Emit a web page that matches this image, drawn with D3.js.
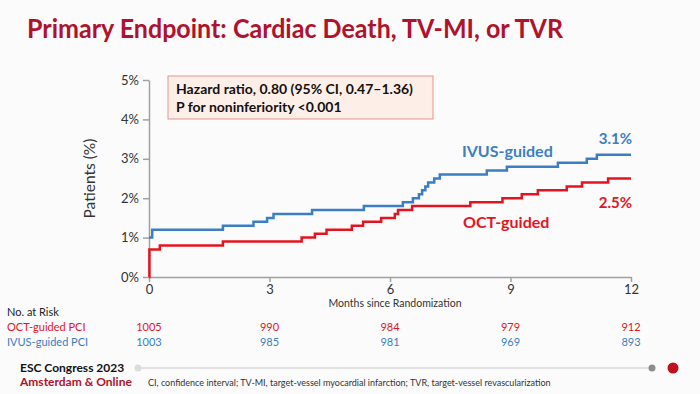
<!DOCTYPE html>
<html>
<head>
<meta charset="utf-8">
<script src="https://cdn.jsdelivr.net/npm/d3@7"></script>
<style>
  html, body { margin: 0; padding: 0; background: #fbfbfb; }
  svg { display: block; font-family: Lato, "Open Sans", sans-serif; }
</style>
</head>
<body>
<div id="chart"></div>
<script>
// step data (months, % of patients)
var ivusMonths = [0, 0.08, 1.84, 2.6, 2.94, 3.1, 4.06, 5.35, 6.32, 6.57, 6.72, 6.8, 6.88, 6.95, 7.1, 7.24, 8.41, 8.91, 10.18, 10.9, 11.15, 12];
var ivusPct    = [1.0, 1.2, 1.3, 1.4, 1.5, 1.6, 1.7, 1.8, 1.9, 2.0, 2.1, 2.2, 2.3, 2.4, 2.5, 2.6, 2.7, 2.8, 2.9, 3.0, 3.1, 3.1];
var octMonths  = [0, 0.01, 0.27, 1.84, 3.8, 4.13, 4.42, 5.05, 5.33, 5.78, 6.12, 6.2, 6.55, 8.0, 8.8, 9.28, 9.68, 10.4, 10.78, 11.43, 12];
var octPct     = [0, 0.7, 0.8, 0.9, 1.0, 1.1, 1.2, 1.3, 1.4, 1.5, 1.6, 1.7, 1.8, 1.9, 2.0, 2.1, 2.2, 2.3, 2.4, 2.5, 2.5];

var monthTicks = [0, 3, 6, 9, 12];
var pctTicks = [0, 1, 2, 3, 4, 5];
var atRiskOCT = [1005, 990, 984, 979, 912];
var atRiskIVUS = [1003, 985, 981, 969, 893];

var W = 700, H = 394;
var red = "#e3141f", blue = "#3b7ec2", darkRed = "#b0122b";

var svg = d3.select("#chart").append("svg")
  .attr("width", W).attr("height", H);

svg.append("text")
  .attr("x", 27).attr("y", 38)
  .attr("font-size", 26).attr("font-weight", 700)
  .attr("fill", darkRed)
  .attr("textLength", 536).attr("lengthAdjust", "spacingAndGlyphs")
  .text("Primary Endpoint: Cardiac Death, TV-MI, or TVR");

var x = d3.scaleLinear().domain([0, 12]).range([149, 631]);
var y = d3.scaleLinear().domain([0, 5]).range([277, 80]);

// axes
var yAxis = svg.append("g")
  .attr("transform", "translate(" + x(0) + ",0)")
  .call(d3.axisLeft(y).tickValues(pctTicks).tickSize(6).tickSizeOuter(0)
    .tickFormat(function(d) { return d + "%"; }));
var xAxis = svg.append("g")
  .attr("transform", "translate(0," + y(0) + ")")
  .call(d3.axisBottom(x).tickValues(monthTicks).tickSize(5).tickSizeOuter(0));
[yAxis, xAxis].forEach(function(g) {
  g.select(".domain").attr("stroke", "#a0a0a0").attr("stroke-width", 1.5);
  g.selectAll(".tick line").attr("stroke", "#a0a0a0").attr("stroke-width", 1.5);
  g.selectAll("text").attr("fill", "#333").attr("font-size", 13)
    .attr("font-family", "Lato, sans-serif");
});
yAxis.selectAll("text").attr("x", -10);
xAxis.selectAll("text").attr("y", 8);

svg.append("text")
  .attr("transform", "translate(95," + y(2.5) + ") rotate(-90)")
  .attr("text-anchor", "middle").attr("font-size", 15.5).attr("fill", "#333")
  .text("Patients (%)");

svg.append("text")
  .attr("x", 395).attr("y", 307)
  .attr("text-anchor", "middle").attr("font-size", 10.5).attr("fill", "#333")
  .text("Months since Randomization");

// curves
var line = d3.line()
  .x(function(d) { return x(d[0]); })
  .y(function(d) { return y(d[1]); })
  .curve(d3.curveStepAfter);

svg.append("path")
  .datum(d3.zip(ivusMonths, ivusPct))
  .attr("d", line).attr("fill", "none")
  .attr("stroke", blue).attr("stroke-width", 2.5);
svg.append("path")
  .datum(d3.zip(octMonths, octPct))
  .attr("d", line).attr("fill", "none")
  .attr("stroke", red).attr("stroke-width", 2.5);

// curve labels
svg.append("text").attr("x", 462).attr("y", 157)
  .attr("font-size", 16).attr("font-weight", 700).attr("fill", blue)
  .text("IVUS-guided");
svg.append("text").attr("x", 632).attr("y", 144).attr("text-anchor", "end")
  .attr("font-size", 15).attr("font-weight", 700).attr("fill", blue)
  .text(ivusPct[ivusPct.length - 1].toFixed(1) + "%");
svg.append("text").attr("x", 463).attr("y", 228)
  .attr("font-size", 16).attr("font-weight", 700).attr("fill", red)
  .text("OCT-guided");
svg.append("text").attr("x", 632).attr("y", 208).attr("text-anchor", "end")
  .attr("font-size", 15).attr("font-weight", 700).attr("fill", red)
  .text(octPct[octPct.length - 1].toFixed(1) + "%");

// hazard box
svg.append("rect")
  .attr("x", 168).attr("y", 76).attr("width", 265).attr("height", 43)
  .attr("fill", "#fdeee8").attr("stroke", "#e8938a").attr("stroke-width", 1);
svg.append("text").attr("x", 176).attr("y", 94)
  .attr("font-size", 14).attr("font-weight", 700).attr("fill", "#111")
  .text("Hazard ratio, 0.80 (95% CI, 0.47\u20131.36)");
svg.append("text").attr("x", 176).attr("y", 112)
  .attr("font-size", 14).attr("font-weight", 700).attr("fill", "#111")
  .text("P for noninferiority <0.001");

// number at risk
svg.append("text").attr("x", 7).attr("y", 316)
  .attr("font-size", 11).attr("fill", "#222").text("No. at Risk");
svg.append("text").attr("x", 7).attr("y", 331)
  .attr("font-size", 11).attr("fill", red).text("OCT-guided PCI");
svg.append("text").attr("x", 7).attr("y", 346)
  .attr("font-size", 11).attr("fill", blue).text("IVUS-guided PCI");
svg.selectAll(".riskOCT").data(atRiskOCT).enter().append("text")
  .attr("x", function(d, i) { return x(monthTicks[i]); }).attr("y", 331)
  .attr("text-anchor", "middle").attr("font-size", 11).attr("fill", red)
  .text(function(d) { return d; });
svg.selectAll(".riskIVUS").data(atRiskIVUS).enter().append("text")
  .attr("x", function(d, i) { return x(monthTicks[i]); }).attr("y", 346)
  .attr("text-anchor", "middle").attr("font-size", 11).attr("fill", blue)
  .text(function(d) { return d; });

// footer
svg.append("line").attr("x1", 138).attr("x2", 652).attr("y1", 368).attr("y2", 368)
  .attr("stroke", "#e2e2e2").attr("stroke-width", 2);
svg.append("circle").attr("cx", 138).attr("cy", 368).attr("r", 3.5).attr("fill", "#dcdcdc");
svg.append("circle").attr("cx", 652).attr("cy", 368).attr("r", 3.5).attr("fill", "#8c8c8c");
svg.append("circle").attr("cx", 673).attr("cy", 368).attr("r", 5.5).attr("fill", "#c0101c");
svg.append("text").attr("x", 20).attr("y", 372)
  .attr("font-size", 12).attr("font-weight", 700).attr("fill", "#111")
  .text("ESC Congress 2023");
svg.append("text").attr("x", 20).attr("y", 386)
  .attr("font-size", 12).attr("font-weight", 700).attr("fill", darkRed)
  .text("Amsterdam & Online");
svg.append("text").attr("x", 148).attr("y", 386)
  .attr("font-size", 9).attr("fill", "#333")
  .text("CI, confidence interval; TV-MI, target-vessel myocardial infarction; TVR, target-vessel revascularization");
</script>
</body>
</html>
